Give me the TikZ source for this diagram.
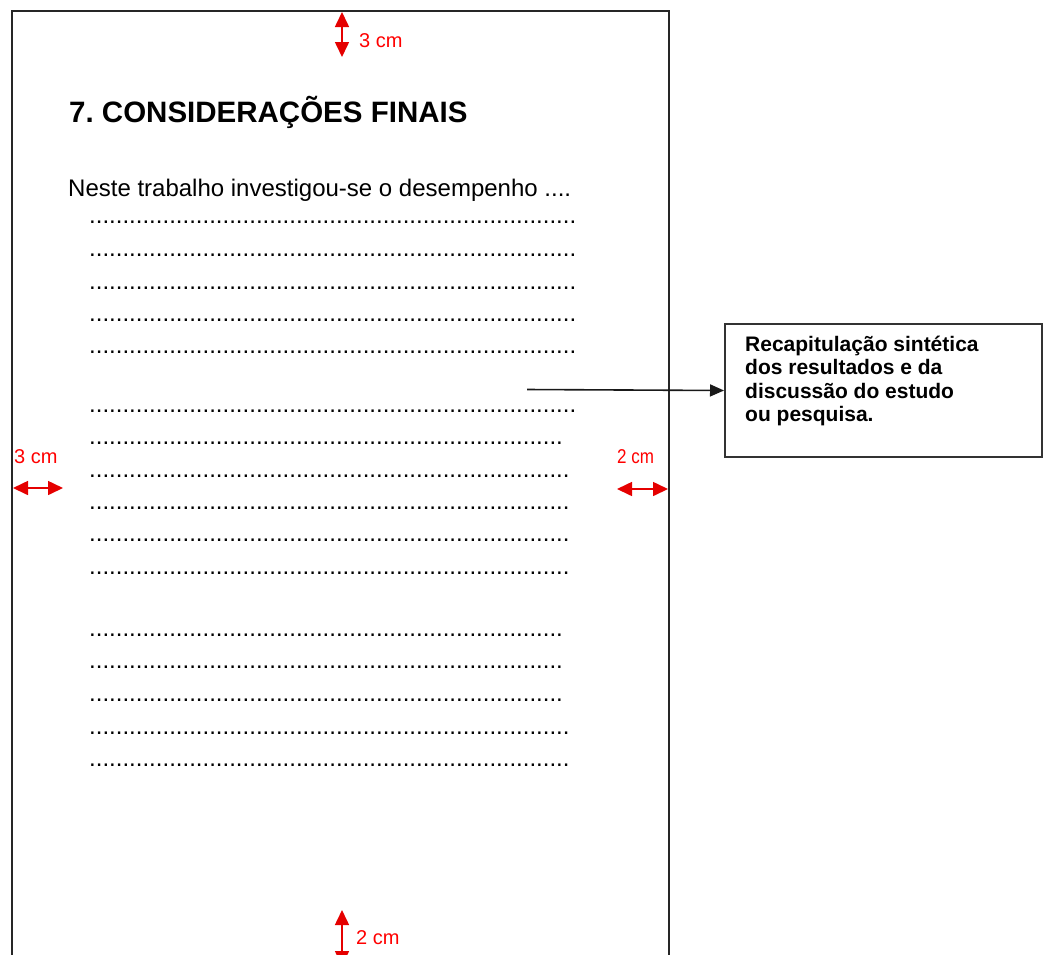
\documentclass[tikz,border=0pt]{standalone}
\usepackage{fontspec}
\setmainfont{Liberation Sans}
\usepackage{graphicx}
\usetikzlibrary{arrows.meta}

% a run of #1 full stops, used for the placeholder text lines
\newcount\dotcnt
\newcommand\dotrun[1]{\dotcnt=#1\relax\loop.\advance\dotcnt by -1 \ifnum\dotcnt>0 \repeat}

\begin{document}
\frenchspacing
\begin{tikzpicture}[x=1pt,y=-1pt,
  pageline/.style={draw=black!85, line width=2pt},
  body/.style={font=\fontsize{24}{28}\selectfont, inner sep=0pt, anchor=base west},
  title/.style={font=\bfseries\fontsize{29.5}{34}\selectfont, inner sep=0pt, anchor=base west},
  notebox/.style={draw=black!80, line width=2pt, minimum width=317pt, minimum height=133pt, anchor=north west, inner sep=0pt},
  notetext/.style={font=\bfseries\fontsize{21}{23.5}\selectfont, inner sep=0pt, anchor=base west},
  pointer/.style={black!90, line width=1.6pt, -{Triangle[length=14pt,width=12pt]}},
  measure/.style={red!90!black, line width=1.6pt, {Triangle[length=15pt,width=14pt]}-{Triangle[length=15pt,width=14pt]}},
  measurelabel/.style={text=red, font=\fontsize{20}{24}\selectfont, inner sep=0pt, anchor=base west},
]
\clip (0,0) rectangle (1043,954);

% sheet edges
\draw[pageline] (12,965) -- (12,11) -- (669,11) -- (669,965);

% heading and opening sentence
\node[title] (heading) at (69,122) {7. CONSIDERAÇÕES FINAIS};
\node[body] (opening) at (68,196) {Neste trabalho investigou-se o desempenho ....};

% placeholder lines, first paragraph
\node[body] (p1a) at (89,223) {\dotrun{73}};
\node[body] (p1b) at (89,256) {\dotrun{73}};
\node[body] (p1c) at (89,289) {\dotrun{73}};
\node[body] (p1d) at (89,321) {\dotrun{73}};
\node[body] (p1e) at (89,353) {\dotrun{73}};

% second paragraph
\node[body] (p2a) at (89,412) {\dotrun{73}};
\node[body] (p2b) at (89,444) {\dotrun{71}};
\node[body] (p2c) at (89,477) {\dotrun{72}};
\node[body] (p2d) at (89,509) {\dotrun{72}};
\node[body] (p2e) at (89,541) {\dotrun{72}};
\node[body] (p2f) at (89,574) {\dotrun{72}};

% third paragraph
\node[body] (p3a) at (89,636) {\dotrun{71}};
\node[body] (p3b) at (89,668) {\dotrun{71}};
\node[body] (p3c) at (89,701) {\dotrun{71}};
\node[body] (p3d) at (89,734) {\dotrun{72}};
\node[body] (p3e) at (89,766) {\dotrun{72}};

% side note
\node[notebox] (note) at (724,323) {};
\node[notetext] (notetxt) at (745,351) {\begin{tabular}[t]{@{}l@{}}Recapitulação sintética\\dos resultados e da\\discussão do estudo\\ou pesquisa.\end{tabular}};
\coordinate (pointerstart) at (527,389.5);
\draw[pointer] (pointerstart) -- (note.west);

% margin measures
\draw[measure] (342,12) -- (342,57);
\node[measurelabel] (topm) at (359,47) {3 cm};

\draw[measure] (13,488) -- (63,488);
\node[measurelabel] (leftm) at (14,463) {3 cm};

\draw[measure] (617,489) -- (668,489);
\node[measurelabel] (rightm) at (617,463) {\scalebox{0.85}[1]{2 cm}};

\draw[measure] (342,910) -- (342,966);
\node[measurelabel] (bottomm) at (356,944) {2 cm};
\end{tikzpicture}
\end{document}
